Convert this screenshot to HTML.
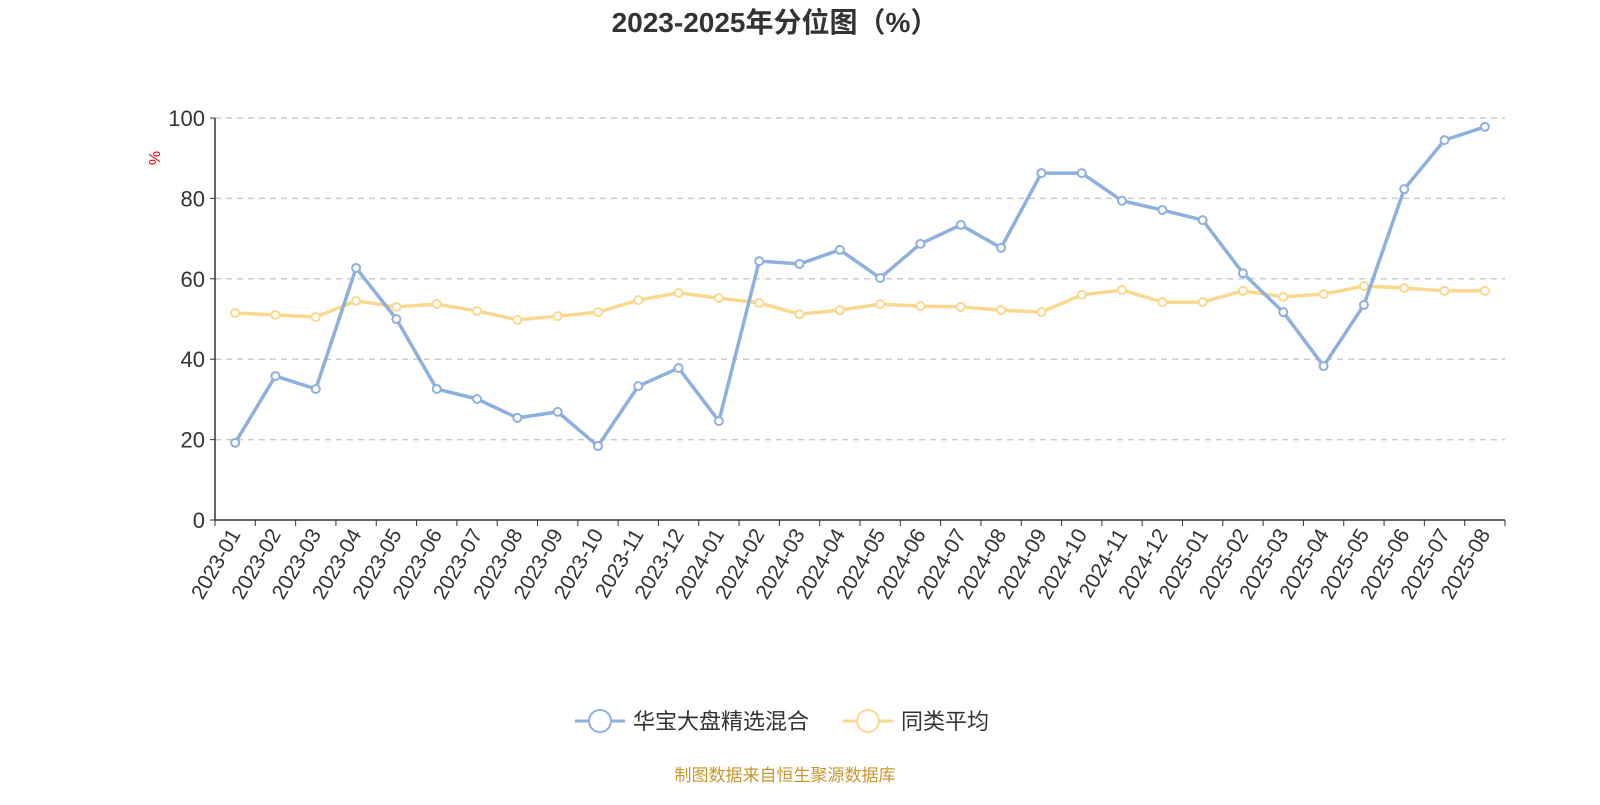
<!DOCTYPE html>
<html><head><meta charset="utf-8"><style>
body{margin:0;background:#fff;font-family:"Liberation Sans","Noto Sans CJK SC",sans-serif;}
</style></head><body>
<svg id="chart" width="1600" height="800" xmlns="http://www.w3.org/2000/svg" style="font-family:'Liberation Sans','Noto Sans CJK SC',sans-serif">
<text x="775" y="32" text-anchor="middle" font-size="28" font-weight="bold" fill="#333">2023-2025年分位图（%）</text>
<text x="160" y="158" font-size="16" fill="#e00" transform="rotate(-90 160 158)" text-anchor="middle">%</text>
<g id="grid"></g><g id="axes"></g><g id="series"></g>
<g>
<g><line x1="575" y1="721" x2="625" y2="721" stroke="#8eb0dc" stroke-width="3"/><circle cx="600" cy="721" r="11" fill="#fff" stroke="#8eb0dc" stroke-width="2"/><text x="633" y="729" font-size="22" fill="#333">华宝大盘精选混合</text></g>
<g><line x1="843" y1="721" x2="893" y2="721" stroke="#fbd890" stroke-width="3"/><circle cx="868" cy="721" r="11" fill="#fff" stroke="#fbd890" stroke-width="2"/><text x="901" y="729" font-size="22" fill="#333">同类平均</text></g>
</g>
<text x="785" y="781" text-anchor="middle" font-size="17" fill="#c8962e">制图数据来自恒生聚源数据库</text>
</svg>
<script>
const categories=["2023-01","2023-02","2023-03","2023-04","2023-05","2023-06","2023-07","2023-08","2023-09","2023-10","2023-11","2023-12","2024-01","2024-02","2024-03","2024-04","2024-05","2024-06","2024-07","2024-08","2024-09","2024-10","2024-11","2024-12","2025-01","2025-02","2025-03","2025-04","2025-05","2025-06","2025-07","2025-08"];
const fundValues=[19.2,35.8,32.6,62.7,50,32.6,30.1,25.4,26.9,18.4,33.3,37.8,24.6,64.4,63.7,67.2,60.2,68.7,73.4,67.7,86.3,86.3,79.4,77.1,74.6,61.4,51.7,38.3,53.5,82.3,94.5,97.8];
const avgValues=[51.5,51,50.5,54.5,53,53.7,52,49.8,50.7,51.7,54.7,56.5,55.2,54,51.2,52.2,53.7,53.2,53,52.2,51.7,56,57.2,54.2,54.2,57,55.5,56.2,58.2,57.7,57,57];
const yTicks=[0,20,40,60,80,100];
const NS="http://www.w3.org/2000/svg";
const X0=215,X1=1505,Y0=520,Y1=118;
const band=(X1-X0)/categories.length;
const xs=i=>X0+band*(i+0.5);
const ys=v=>Y0-(v/100)*(Y0-Y1);
function mk(tag,attrs,parent){const e=document.createElementNS(NS,tag);for(const k in attrs)e.setAttribute(k,attrs[k]);parent.appendChild(e);return e;}
const grid=document.getElementById('grid'),axes=document.getElementById('axes'),series=document.getElementById('series');
yTicks.forEach(t=>{
  if(t>0){const g=mk('line',{x1:X0,x2:X1,y1:ys(t),y2:ys(t),stroke:'#ccc','stroke-width':1.5,'stroke-dasharray':'6,5'},grid);
  
  }
  const tx=mk('text',{x:X0-10,y:ys(t)+8,'text-anchor':'end','font-size':22,fill:'#333'},axes);tx.textContent=t;
  
  
  mk('line',{x1:X0-5,x2:X0,y1:ys(t),y2:ys(t),stroke:'#333'},axes);
});
const ya=mk('line',{x1:X0,x2:X0,y1:Y1,y2:Y0,stroke:'#333','stroke-width':1.5},axes);


const xa=mk('line',{x1:X0,x2:X1,y1:Y0,y2:Y0,stroke:'#333','stroke-width':1.5},axes);


for(let i=0;i<=categories.length;i++){mk('line',{x1:X0+band*i,x2:X0+band*i,y1:Y0,y2:Y0+6,stroke:'#333'},axes);}
categories.forEach((c,i)=>{
  const x=xs(i)+6,y=Y0+14;
  const t=mk('text',{x:x,y:y,'text-anchor':'end','font-size':21,fill:'#333',transform:`rotate(-60 ${x} ${y})`},axes);t.textContent=c;
  
  
});
function drawSeries(vals,color,name){
  const p=mk('polyline',{points:vals.map((v,i)=>xs(i)+','+ys(v)).join(' '),fill:'none',stroke:color,'stroke-width':3.5,'stroke-linejoin':'round'},series);
  
  
  vals.forEach((v,i)=>{const c=mk('circle',{cx:xs(i),cy:ys(v),r:4,fill:'#fff',stroke:color,'stroke-width':2},series);
    
    });
}
drawSeries(avgValues,'#fbd890','average');
drawSeries(fundValues,'#8eb0dc','fund');
</script>
</body></html>
